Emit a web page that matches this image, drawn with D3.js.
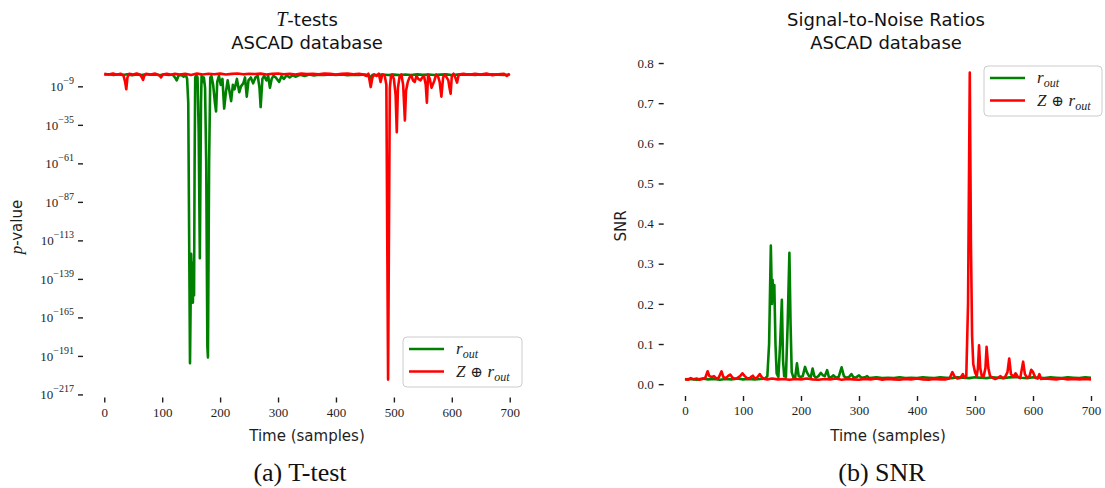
<!DOCTYPE html>
<html><head><meta charset="utf-8">
<script src="https://cdn.jsdelivr.net/npm/d3@7"></script>
<style>body{margin:0;background:#fff}svg{display:block}</style>
</head><body><svg id="c" width="1105" height="488"></svg>
<script>
// ---------------- DATA ----------------
const xTicks = [0, 100, 200, 300, 400, 500, 600, 700];
const ttestExpTicks = [-9, -35, -61, -87, -113, -139, -165, -191, -217];
const snrTicks = [0.0, 0.1, 0.2, 0.3, 0.4, 0.5, 0.6, 0.7, 0.8];

// T-test, r_out : time and log10(p-value)
const ttestTimeRout = [
 0, 8, 16, 24, 32, 40, 48, 56, 64, 72,
 80, 88, 96, 104, 112, 118, 122, 125, 128, 132,
 137, 141, 143, 145, 148, 150, 151, 152, 153, 154,
 155, 156, 157, 159, 161, 163, 165, 167, 168, 170,
 172, 174, 176, 178, 179, 181, 183, 185, 188, 191,
 193, 195, 198, 201, 204, 207, 210, 213, 216, 219,
 222, 225, 229, 233, 236, 240, 243, 246, 249, 253,
 257, 261, 265, 268, 270, 273, 276, 280, 283, 286,
 289, 292, 296, 302, 306, 310, 315, 320, 325, 330,
 338, 346, 354, 362, 370, 380, 390, 400, 410, 420,
 430, 440, 450, 457, 460, 463, 470, 480, 490, 500,
 510, 520, 530, 540, 550, 560, 570, 580, 590, 600,
 610, 620, 630, 640, 650, 660, 670, 680, 690, 700];
const ttestLog10pRout = [
 -1.2, -0.8, -1.4, -0.9, -1.3, -0.8, -1.5, -1.0, -1.3, -0.8,
 -1.2, -1.0, -1.5, -0.9, -1.3, -1.0, -3, -5, -2, -1.2,
 -2.5, -1.5, -4, -20, -196, -122, -135, -150, -155, -128,
 -150, -60, -3, -1.5, -3, -40, -125, -20, -2, -6,
 -3, -10, -60, -185, -192, -60, -3, -2, -8, -20,
 -26, -6, -2, -8, -4, -24, -13, -5, -12, -19,
 -8, -11, -4, -13, -9, -7, -3, -16, -5, -3,
 -7, -3, -2, -10, -23, -4, -2, -5, -2, -10,
 -4, -2, -3, -6, -2, -4, -1.5, -3, -1.5, -2.5,
 -1.2, -2, -1.0, -1.6, -1.1, -1.4, -0.9, -1.3, -1.0, -1.5,
 -1.1, -1.3, -1.0, -1.5, -3.5, -1.2, -1.4, -1.0, -1.3, -1.1,
 -1.4, -1.0, -1.3, -0.9, -1.2, -1.0, -1.4, -1.1, -0.9, -1.3,
 -1.0, -1.2, -0.9, -1.3, -1.0, -1.2, -0.9, -1.1, -1.3, -1.0];

// T-test, Z xor r_out : time and log10(p-value)
const ttestTimeZRout = [
 0, 8, 15, 22, 28, 33, 36, 38, 40, 43,
 50, 56, 62, 65, 67, 69, 72, 80, 88, 95,
 98, 101, 108, 115, 122, 130, 140, 150, 160, 170,
 180, 190, 200, 210, 220, 230, 240, 250, 260, 270,
 280, 290, 300, 310, 320, 330, 340, 350, 360, 370,
 380, 390, 400, 410, 420, 430, 440, 447, 453, 456,
 460, 463, 466, 470, 474, 477, 480, 484, 487, 490,
 493, 495, 497, 500, 503, 505, 507, 510, 513, 516,
 519, 521, 524, 527, 530, 533, 536, 539, 542, 546,
 549, 552, 555, 557, 559, 562, 565, 567, 570, 573,
 576, 579, 582, 585, 588, 591, 594, 596, 598, 600,
 603, 606, 609, 612, 620, 630, 640, 650, 660, 670,
 680, 690, 695, 700];
const ttestLog10pZRout = [
 -0.5, -1.0, -0.3, -1.2, -0.5, -1.5, -6, -11, -3, -0.5,
 -1.0, -0.3, -1.2, -3, -4.7, -2, -0.5, -1.0, -0.4, -1.5,
 -3, -1.0, -0.5, -1.2, -0.6, -1.0, -0.5, -1.3, -0.4, -1.0,
 -0.5, -0.8, -0.4, -1.0, -0.6, -0.3, -0.9, -0.5, -0.7, -0.4,
 -1.0, -0.5, -0.3, -0.8, -0.5, -1.0, -0.4, -0.7, -0.5, -0.9,
 -0.4, -0.6, -1.0, -0.5, -0.3, -0.8, -0.5, -1.0, -2, -0.5,
 -9.5, -3, -1.0, -2, -0.5, -6, -1.0, -1.5, -8, -207,
 -10, -2, -1.0, -4, -15, -40, -10, -2, -1.0, -8,
 -32, -12, -6, -3, -1.5, -5, -6, -2, -4, -5,
 -3, -2, -8, -20, -1.0, -4, -10, -8, -5, -1.0,
 -2, -6, -16, -3, -1.0, -3, -5, -10, -14, -2,
 -0.5, -3, -6.5, -1.0, -0.5, -1.2, -0.5, -1.0, -0.4, -1.5,
 -0.8, -0.5, -2, -0.5];

// SNR, r_out
const snrTimeRout = [
 0, 10, 20, 30, 40, 50, 60, 70, 80, 90,
 100, 110, 120, 130, 138, 142, 145, 148, 150, 151,
 152, 154, 156, 158, 161, 164, 167, 169, 171, 174,
 177, 180, 182, 184, 187, 190, 193, 196, 199, 203,
 207, 210, 214, 217, 220, 223, 226, 230, 234, 238,
 241, 245, 248, 252, 256, 260, 265, 270, 274, 278,
 283, 287, 291, 295, 300, 304, 310, 314, 318, 330,
 340, 350, 360, 370, 380, 390, 400, 410, 420, 430,
 440, 450, 460, 470, 480, 490, 500, 510, 520, 530,
 540, 550, 560, 570, 580, 590, 600, 610, 620, 630,
 640, 650, 660, 670, 680, 690, 700];
const snrRout = [
 0.012, 0.013, 0.011, 0.014, 0.012, 0.013, 0.011, 0.013, 0.012, 0.014,
 0.012, 0.013, 0.012, 0.013, 0.014, 0.02, 0.1, 0.345, 0.2, 0.26,
 0.21, 0.247, 0.1, 0.027, 0.018, 0.1, 0.21, 0.06, 0.02, 0.018,
 0.15, 0.327, 0.15, 0.03, 0.016, 0.017, 0.052, 0.02, 0.018, 0.02,
 0.043, 0.03, 0.02, 0.018, 0.039, 0.02, 0.016, 0.02, 0.028, 0.022,
 0.02, 0.035, 0.018, 0.017, 0.022, 0.016, 0.018, 0.042, 0.02, 0.016,
 0.018, 0.025, 0.016, 0.017, 0.022, 0.016, 0.017, 0.02, 0.015, 0.017,
 0.015, 0.016, 0.015, 0.017, 0.015, 0.016, 0.015, 0.017, 0.016, 0.015,
 0.017, 0.016, 0.015, 0.017, 0.016, 0.015, 0.017, 0.016, 0.015, 0.017,
 0.016, 0.015, 0.017, 0.018, 0.016, 0.015, 0.017, 0.016, 0.015, 0.017,
 0.016, 0.015, 0.017, 0.016, 0.015, 0.017, 0.016];

// SNR, Z xor r_out
const snrTimeZRout = [
 0, 5, 10, 15, 20, 25, 30, 35, 39, 42,
 46, 50, 54, 58, 63, 66, 70, 74, 78, 82,
 86, 90, 95, 99, 103, 107, 111, 114, 117, 120,
 124, 129, 133, 137, 142, 150, 160, 170, 180, 190,
 200, 210, 220, 230, 240, 250, 260, 270, 280, 290,
 300, 310, 320, 330, 340, 350, 360, 370, 380, 390,
 400, 410, 420, 430, 440, 450, 456, 461, 465, 470,
 475, 479, 482, 485, 488, 491, 493, 495, 497, 500,
 503, 505, 507, 509, 512, 515, 518, 520, 523, 526,
 530, 535, 540, 544, 548, 552, 556, 559, 562, 566,
 570, 574, 578, 583, 586, 590, 594, 597, 600, 604,
 608, 611, 614, 620, 630, 640, 650, 660, 670, 680,
 690, 700];
const snrZRout = [
 0.013, 0.011, 0.015, 0.012, 0.014, 0.011, 0.013, 0.016, 0.032, 0.02,
 0.018, 0.02, 0.014, 0.016, 0.032, 0.018, 0.015, 0.02, 0.024, 0.016,
 0.013, 0.015, 0.02, 0.027, 0.02, 0.015, 0.014, 0.018, 0.021, 0.014,
 0.016, 0.025, 0.016, 0.013, 0.012, 0.014, 0.012, 0.013, 0.011, 0.013,
 0.012, 0.014, 0.012, 0.011, 0.013, 0.012, 0.014, 0.011, 0.013, 0.012,
 0.011, 0.013, 0.012, 0.014, 0.011, 0.013, 0.012, 0.011, 0.013, 0.012,
 0.014, 0.012, 0.011, 0.013, 0.012, 0.012, 0.014, 0.03, 0.018, 0.014,
 0.016, 0.025, 0.016, 0.02, 0.2, 0.776, 0.35, 0.12, 0.05, 0.03,
 0.02, 0.04, 0.097, 0.04, 0.018, 0.02, 0.04, 0.093, 0.04, 0.02,
 0.016, 0.013, 0.016, 0.02, 0.015, 0.018, 0.03, 0.064, 0.025, 0.018,
 0.027, 0.018, 0.015, 0.056, 0.025, 0.016, 0.02, 0.036, 0.03, 0.016,
 0.014, 0.025, 0.013, 0.014, 0.013, 0.012, 0.014, 0.012, 0.013, 0.012,
 0.013, 0.012];

// ---------------- DRAWING ----------------
const GREEN = "#008000", RED = "#ff0000", INK = "#1e1e1e";
const SANS = "'DejaVu Sans', sans-serif";
const SERIF = "'Liberation Serif', serif";
const LW = 2.6;
const svg = d3.select("#c");

function zip(xs, ys) { return xs.map((x, i) => ({ x: x, y: ys[i] })); }

function styleAxis(g) {
  g.select(".domain").remove();
  g.selectAll(".tick line").attr("stroke", INK).attr("stroke-width", 1.4);
  g.selectAll(".tick text").attr("fill", INK).attr("font-family", SERIF).attr("font-size", 13);
}

function legend(x, y, w, h) {
  const g = svg.append("g").attr("transform", `translate(${x},${y})`);
  g.append("rect").attr("width", w).attr("height", h).attr("rx", 4)
    .attr("fill", "#fff").attr("fill-opacity", 0.85).attr("stroke", "#cccccc").attr("stroke-width", 1);
  const rows = [{ c: GREEN, z: false }, { c: RED, z: true }];
  rows.forEach((r, i) => {
    const cy = 12 + i * 22.5;
    g.append("line").attr("x1", 6).attr("x2", 41).attr("y1", cy).attr("y2", cy)
      .attr("stroke", r.c).attr("stroke-width", LW);
    const t = g.append("text").attr("x", 53).attr("y", cy + 5)
      .attr("font-family", SERIF).attr("font-size", 17).attr("fill", INK);
    if (r.z) {
      t.append("tspan").attr("font-style", "italic").text("Z");
      t.append("tspan").attr("font-family", "'DejaVu Serif', serif").attr("font-size", 15).text(" \u2295 ");
    }
    t.append("tspan").attr("font-style", "italic").text("r");
    t.append("tspan").attr("font-style", "italic").attr("font-size", 12).attr("dy", 4).text("out");
  });
}

function title(cx, part1Italic, part1Rest, line2) {
  const t = svg.append("text").attr("x", cx).attr("y", 26).attr("text-anchor", "middle")
    .attr("font-family", SANS).attr("font-size", 18).attr("fill", "#111");
  if (part1Italic) t.append("tspan").attr("font-family", SERIF).attr("font-style", "italic").attr("font-size", 20).text(part1Italic);
  t.append("tspan").text(part1Rest);
  svg.append("text").attr("x", cx).attr("y", 49).attr("text-anchor", "middle")
    .attr("font-family", SANS).attr("font-size", 18).attr("fill", "#111").text(line2);
}

const line = (xs, ys) => d3.line().x(d => xs(d.x)).y(d => ys(d.y));

// ---- Panel (a): T-tests ----
{
  const L = 84, R = 530, T = 57.6, B = 396.5;
  const x = d3.scaleLinear().domain([-35, 735]).range([L, R]);
  const y = d3.scaleLog().domain([Math.pow(10, -218.4), Math.pow(10, 10.4)]).range([B, T]);

  const gx = svg.append("g").attr("transform", `translate(0,${B + 1})`)
    .call(d3.axisBottom(x).tickValues(xTicks).tickSize(5).tickPadding(5));
  styleAxis(gx);
  const gy = svg.append("g").attr("transform", `translate(${L - 1},0)`)
    .call(d3.axisLeft(y).tickValues(ttestExpTicks.map(e => Math.pow(10, e))).tickSize(5).tickPadding(4));
  styleAxis(gy);
  gy.selectAll(".tick text").each(function (d) {
    const e = Math.round(Math.log10(d));
    const t = d3.select(this).text(null);
    t.append("tspan").text("10");
    t.append("tspan").attr("font-size", 10).attr("dy", "-0.7em").text("\u2212" + Math.abs(e));
  });

  const pG = zip(ttestTimeRout, ttestLog10pRout).map(d => ({ x: d.x, y: Math.pow(10, d.y) }));
  const pR = zip(ttestTimeZRout, ttestLog10pZRout).map(d => ({ x: d.x, y: Math.pow(10, d.y) }));
  svg.append("path").datum(pG).attr("d", line(x, y)).attr("fill", "none")
    .attr("stroke", GREEN).attr("stroke-width", LW).attr("stroke-linejoin", "round");
  svg.append("path").datum(pR).attr("d", line(x, y)).attr("fill", "none")
    .attr("stroke", RED).attr("stroke-width", LW).attr("stroke-linejoin", "round");

  title((L + R) / 2, "T", "-tests", "ASCAD database");

  const yl = svg.append("text").attr("transform", `translate(22,${(T + B) / 2}) rotate(-90)`)
    .attr("text-anchor", "middle").attr("font-family", SANS).attr("font-size", 15).attr("fill", INK);
  yl.append("tspan").attr("font-family", SERIF).attr("font-style", "italic").attr("font-size", 17).text("p");
  yl.append("tspan").text("-value");

  svg.append("text").attr("x", (L + R) / 2).attr("y", 441).attr("text-anchor", "middle")
    .attr("font-family", SANS).attr("font-size", 15).attr("fill", INK).text("Time (samples)");

  svg.append("text").attr("x", 300).attr("y", 481).attr("text-anchor", "middle")
    .attr("font-family", SERIF).attr("font-size", 26).attr("fill", "#111").text("(a) T-test");

  legend(403, 337, 119, 50);
}

// ---- Panel (b): SNR ----
{
  const L = 664.7, R = 1111.3, T = 57, B = 395;
  const x = d3.scaleLinear().domain([-35, 735]).range([L, R]);
  const y = d3.scaleLinear().domain([-0.027, 0.815]).range([B, T]);

  const gx = svg.append("g").attr("transform", `translate(0,${B + 1})`)
    .call(d3.axisBottom(x).tickValues(xTicks).tickSize(5).tickPadding(5));
  styleAxis(gx);
  const gy = svg.append("g").attr("transform", `translate(${L - 1},0)`)
    .call(d3.axisLeft(y).tickValues(snrTicks).tickFormat(d3.format(".1f")).tickSize(5).tickPadding(5));
  styleAxis(gy);

  svg.append("path").datum(zip(snrTimeRout, snrRout)).attr("d", line(x, y)).attr("fill", "none")
    .attr("stroke", GREEN).attr("stroke-width", LW).attr("stroke-linejoin", "round");
  svg.append("path").datum(zip(snrTimeZRout, snrZRout)).attr("d", line(x, y)).attr("fill", "none")
    .attr("stroke", RED).attr("stroke-width", LW).attr("stroke-linejoin", "round");

  title(886, null, "Signal-to-Noise Ratios", "ASCAD database");

  svg.append("text").attr("transform", `translate(626,${(T + B) / 2}) rotate(-90)`)
    .attr("text-anchor", "middle").attr("font-family", SANS).attr("font-size", 15).attr("fill", INK).text("SNR");

  svg.append("text").attr("x", 888).attr("y", 441).attr("text-anchor", "middle")
    .attr("font-family", SANS).attr("font-size", 15).attr("fill", INK).text("Time (samples)");

  svg.append("text").attr("x", 882).attr("y", 481).attr("text-anchor", "middle")
    .attr("font-family", SERIF).attr("font-size", 26).attr("fill", "#111").text("(b) SNR");

  legend(984, 66, 118, 50);
}
</script>
</body></html>
